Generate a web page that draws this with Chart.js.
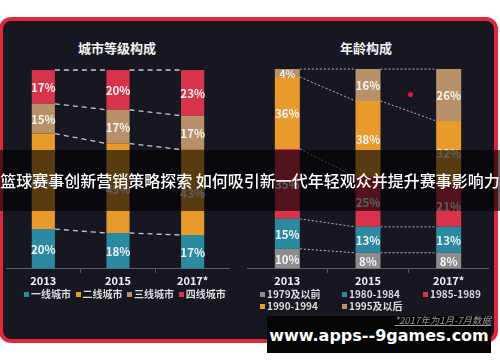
<!DOCTYPE html>
<html>
<head>
<meta charset="utf-8">
<script src="https://cdn.jsdelivr.net/npm/chart.js@4"></script>
<style>
  html, body { margin: 0; padding: 0; background: #fff; }
  body { width: 500px; height: 362px; position: relative; overflow: hidden;
         font-family: "Open Sans", "Noto Sans CJK SC", sans-serif; }
  #frame { position: absolute; left: -1px; top: 17px; width: 491px; height: 318px;
           border: 4px solid #e0283c; border-radius: 12px; background: #171722; }
  .title { position: absolute; top: 39px; color: #f2f2f2; font: bold 13px "Noto Sans CJK SC", sans-serif;
           text-align: center; line-height: 18px; }
  .box { position: absolute; }
  .legend { position: absolute; color: #dcdcdc; font: bold 10px "Noto Sans CJK SC", sans-serif;
            white-space: nowrap; line-height: 12px; }
  .legend span.sw { display: inline-block; width: 5px; height: 5px; margin-right: 2px; vertical-align: 1px; }
  #banner { position: absolute; left: 0; top: 150px; width: 500px; height: 61px; background: rgba(0,0,0,0.62);
            color: #fff; font: 500 16px "Noto Sans CJK SC", sans-serif; line-height: 61px; text-align: center;
            white-space: nowrap; }
  #wm { position: absolute; left: 267px; top: 316px; width: 224px; height: 37px; background: #050505;
        color: #fff; font: bold 16px "DejaVu Sans", sans-serif; line-height: 40px; text-align: center;
        white-space: nowrap; }
  #note { position: absolute; right: 9px; top: 313px; color: #9a9a9a; font: italic 9.5px "Noto Sans CJK SC", sans-serif;
          text-decoration: underline; white-space: nowrap; }
  #dot { position: absolute; left: 408px; top: 92px; width: 5px; height: 5px; border-radius: 50%; background: #e8163a; }
</style>
</head>
<body>
<div id="frame"></div>
<div class="title" style="left:57px;width:120px;">城市等级构成</div>
<div class="title" style="left:306px;width:120px;">年龄构成</div>
<div class="box" style="left:6px;top:60px;width:224px;height:228px;"><canvas id="cityChart"></canvas></div>
<div class="box" style="left:247px;top:59px;width:242px;height:229px;"><canvas id="ageChart"></canvas></div>
<div id="dot"></div>
<div class="legend" style="left:24px;top:288px;">
  <span class="sw" style="background:#2b8aa0"></span>一线城市&nbsp;
  <span class="sw" style="background:#e89b2c"></span>二线城市&nbsp;
  <span class="sw" style="background:#b8916a"></span>三线城市&nbsp;
  <span class="sw" style="background:#d9334b"></span>四线城市
</div>
<div class="legend" style="left:260px;top:288px;"><span class="sw" style="background:#8c8c8c"></span>1979及以前</div>
<div class="legend" style="left:342px;top:288px;"><span class="sw" style="background:#2b8aa0"></span>1980-1984</div>
<div class="legend" style="left:423px;top:288px;"><span class="sw" style="background:#d9334b"></span>1985-1989</div>
<div class="legend" style="left:260px;top:300px;"><span class="sw" style="background:#e89b2c"></span>1990-1994</div>
<div class="legend" style="left:342px;top:300px;"><span class="sw" style="background:#b8916a"></span>1995及以后</div>
<div id="banner">篮球赛事创新营销策略探索 如何吸引新一代年轻观众并提升赛事影响力</div>
<div id="wm">www.apps--9games.com</div>
<div id="note">*2017年为1月-7月数据</div>

<script>
// data
let years = ['2013', '2015', '2017*'];

let cityNames = ['一线城市', '二线城市', '三线城市', '四线城市'];
let tier1 = [20, 18, 17];
let tier2 = [48, 45, 43];
let tier3 = [15, 17, 17];
let tier4 = [17, 20, 23];

let ageNames = ['1979及以前', '1980-1984', '1985-1989', '1990-1994', '1995及以后'];
let age79 = [10, 8, 8];
let age80 = [15, 13, 13];
let age85 = [35, 25, 21];
let age90 = [36, 38, 32];
let age95 = [4, 16, 26];

let teal = '#2b8aa0';
let orange = '#e89b2c';
let tan = '#b8916a';
let red = '#d9334b';
let grey = '#8c8c8c';

// dashed lines between bars at every segment boundary
let connectors = {
  id: 'connectors',
  beforeDatasetsDraw: (chart, args, opts) => {
    let ctx = chart.ctx;
    ctx.save();
    ctx.strokeStyle = opts.color;
    ctx.lineWidth = opts.width;
    ctx.setLineDash(opts.dash);
    chart.data.datasets.forEach((ds, i) => {
      let bars = chart.getDatasetMeta(i).data;
      for (let j = 0; j < bars.length - 1; j++) {
        let a = bars[j], b = bars[j + 1];
        ctx.beginPath();
        ctx.moveTo(a.x + a.width / 2, a.y);
        ctx.lineTo(b.x - b.width / 2, b.y);
        ctx.stroke();
      }
    });
    ctx.restore();
  }
};

// percentage labels in the middle of each segment
let segLabels = {
  id: 'segLabels',
  afterDatasetsDraw: (chart) => {
    let ctx = chart.ctx;
    ctx.save();
    ctx.fillStyle = '#f4f4f4';
    ctx.textAlign = 'center';
    ctx.textBaseline = 'middle';
    chart.data.datasets.forEach((ds, i) => {
      chart.getDatasetMeta(i).data.forEach((bar, j) => {
        let h = bar.base - bar.y;
        ctx.font = (h < 14 ? 'bold 10px' : 'bold 11.5px') + ' "Noto Sans CJK SC", sans-serif';
        ctx.fillText(ds.data[j] + '%', bar.x, (bar.y + bar.base) / 2 + 1);
      });
    });
    ctx.restore();
  }
};

let makeChart = (canvas, names, series, colors, line) => {
  return new Chart(canvas, {
    type: 'bar',
    data: {
      labels: years,
      datasets: series.map((d, i) => ({
        label: names[i],
        data: d,
        backgroundColor: colors[i],
        borderWidth: 0,
        categoryPercentage: 1,
        barPercentage: 0.31,
      })),
    },
    options: {
      responsive: true,
      maintainAspectRatio: false,
      animation: false,
      layout: { padding: { top: 10, bottom: 0 } },
      scales: {
        x: {
          stacked: true,
          grid: { display: true, drawOnChartArea: false, tickLength: 4, color: '#5a5a66' },
          border: { display: true, color: '#5a5a66' },
          ticks: { color: '#f2f2f2', padding: 1, font: { family: '"Noto Sans CJK SC", sans-serif', size: 11, weight: 'bold' } },
        },
        y: { stacked: true, display: false, min: 0, max: 100 },
      },
      plugins: {
        legend: { display: false },
        tooltip: { enabled: false },
        connectors: line,
      },
    },
    plugins: [connectors, segLabels],
  });
};

makeChart(document.getElementById('cityChart'), cityNames,
  [tier1, tier2, tier3, tier4], [teal, orange, tan, red],
  { color: '#c8c8d0', width: 1.3, dash: [5, 4] });

makeChart(document.getElementById('ageChart'), ageNames,
  [age79, age80, age85, age90, age95], [grey, teal, red, orange, tan],
  { color: '#b4b4be', width: 1, dash: [2, 2] });
</script>
</body>
</html>
